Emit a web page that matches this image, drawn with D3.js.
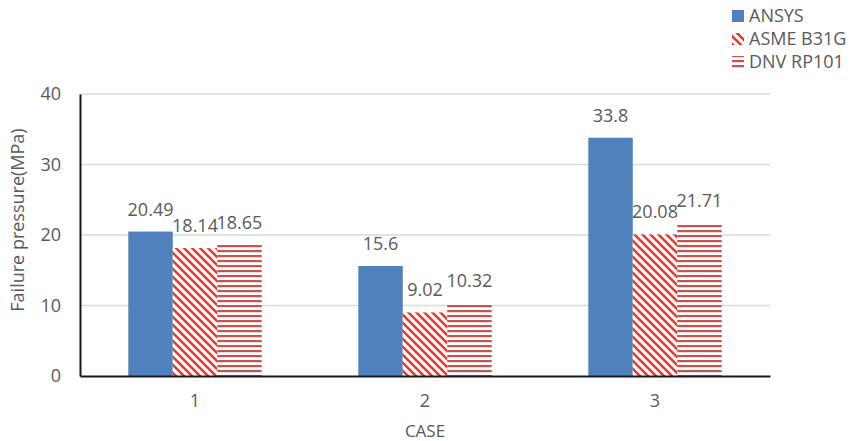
<!DOCTYPE html>
<html><head><meta charset="utf-8">
<script src="https://cdn.jsdelivr.net/npm/d3@7"></script>
<style>body{margin:0;background:#fff}svg{display:block}text{font-family:"Open Sans",sans-serif}</style>
</head><body>
<svg id="c" width="854" height="441"></svg>
<script>
const categories = ["1","2","3"];
const seriesNames = ["ANSYS","ASME B31G","DNV RP101"];
const ansys = [20.49, 15.6, 33.8];
const asme = [18.14, 9.02, 20.08];
const dnv = [18.65, 10.32, 21.71];
const yTicks = [0,10,20,30,40];
const values = [ansys, asme, dnv];

const svg = d3.select("#c");
const mLeft = 80, mRight = 770, mTop = 94, mBottom = 376;
const x = d3.scaleBand().domain(categories).range([mLeft, mRight]).paddingInner(0.42).paddingOuter(0.21);
const xs = d3.scaleBand().domain(seriesNames).range([0, x.bandwidth()]);
const y = d3.scaleLinear().domain([0,40]).range([mBottom, mTop]);

const defs = svg.append("defs");
const p1 = defs.append("pattern").attr("id","diag").attr("patternUnits","userSpaceOnUse").attr("width",8).attr("height",8);
p1.append("rect").attr("width",8).attr("height",8).attr("fill","#fff");
p1.append("path").attr("d","M0,0L8,8M-4,4L4,12M4,-4L12,4").attr("stroke","#e8392a").attr("stroke-width",2.6);
const p2 = defs.append("pattern").attr("id","horiz").attr("patternUnits","userSpaceOnUse").attr("width",5).attr("height",5);
p2.append("rect").attr("width",5).attr("height",5).attr("fill","#fff");
p2.append("rect").attr("y",0).attr("width",5).attr("height",2.2).attr("fill","#c55451");
const fills = ["#4f81bd","url(#diag)","url(#horiz)"];

// gridlines
svg.append("g").selectAll("line").data(yTicks.filter(d=>d>0)).join("line")
  .attr("x1",mLeft).attr("x2",mRight).attr("y1",d=>y(d)).attr("y2",d=>y(d))
  .attr("stroke","#d9d9d9").attr("stroke-width",1.3);

// bars
const g = svg.append("g");
seriesNames.forEach((s,si)=>{
  g.append("g").selectAll("rect").data(categories).join("rect")
    .attr("x",(c)=>x(c)+xs(s)).attr("width",xs.bandwidth())
    .attr("y",(c,i)=>y(values[si][i])).attr("height",(c,i)=>y(0)-y(values[si][i]))
    .attr("fill",fills[si]);
});
// labels
seriesNames.forEach((s,si)=>{
  g.append("g").selectAll("text").data(categories).join("text")
    .attr("x",(c)=>x(c)+xs(s)+xs.bandwidth()/2)
    .attr("y",(c,i)=>y(values[si][i])-16)
    .attr("text-anchor","middle").attr("font-size",18).attr("fill","#595959")
    .text((c,i)=>values[si][i]);
});

// axes
const ya = svg.append("g").attr("transform",`translate(${mLeft},0)`)
  .call(d3.axisLeft(y).tickValues(yTicks).tickSize(0).tickPadding(19));
ya.select(".domain").attr("stroke","#1a1a1a").attr("stroke-width",2);
ya.selectAll("text").attr("font-size",18).attr("fill","#595959").attr("font-family","Open Sans");
const xa = svg.append("g").attr("transform",`translate(0,${mBottom})`)
  .call(d3.axisBottom(x).tickSize(0).tickPadding(18));
xa.select(".domain").attr("stroke","#1a1a1a").attr("stroke-width",2);
xa.selectAll("text").attr("font-size",18).attr("fill","#595959").attr("font-family","Open Sans");

svg.append("text").attr("x",(mLeft+mRight)/2).attr("y",437).attr("text-anchor","middle")
  .attr("font-size",17).attr("fill","#595959").text("CASE");
svg.append("text").attr("transform","translate(24,220) rotate(-90)").attr("text-anchor","middle")
  .attr("font-size",18).attr("fill","#595959").text("Failure pressure(MPa)");

// legend
const lg = svg.append("g");
seriesNames.forEach((s,i)=>{
  const cy = 16 + i*23;
  lg.append("rect").attr("x",732).attr("y",cy-6).attr("width",12).attr("height",12).attr("fill",fills[i]);
  lg.append("text").attr("x",749).attr("y",cy).attr("dy","0.35em").attr("font-size",18).attr("fill","#595959").text(s);
});
</script>
</body></html>
